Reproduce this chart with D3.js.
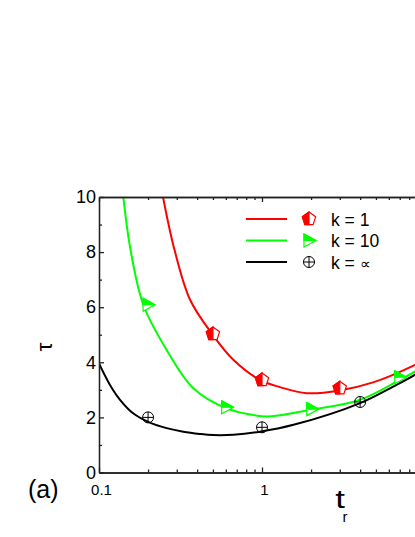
<!DOCTYPE html>
<html><head><meta charset="utf-8">
<script src="https://cdn.jsdelivr.net/npm/d3@7"></script>
<style>body{margin:0;background:#fff} svg{display:block} text{font-family:"Liberation Sans",Arial,sans-serif}</style>
</head><body><svg id="c" width="415" height="537"></svg>
<script>
// ---- data ----
const redCurveX   = [0.247, 0.29, 0.362, 0.49, 0.667, 0.97, 1.29, 1.88, 3.0, 4.8, 8.7, 10];
const redCurveY   = [10, 8.1, 6.27, 5.06, 4.09, 3.36, 3.10, 2.88, 2.98, 3.27, 3.91, 4.1];
const greenCurveX = [0.141, 0.156, 0.187, 0.26, 0.379, 0.607, 1.07, 1.29, 1.97, 4.0, 7.0, 8.7, 10];
const greenCurveY = [10, 8.09, 6.09, 4.45, 3.06, 2.33, 2.03, 2.08, 2.27, 2.64, 3.36, 3.67, 3.95];
const blackCurveX = [0.1, 0.1168, 0.1346, 0.162, 0.205, 0.26, 0.329, 0.416, 0.5, 0.667, 0.97, 1.56, 4.0, 6.38, 8.7, 10];
const blackCurveY = [3.96, 3.18, 2.64, 2.15, 1.81, 1.61, 1.48, 1.40, 1.36, 1.37, 1.48, 1.73, 2.52, 3.12, 3.55, 3.8];

const redPtsX   = [0.5, 1, 3];
const redPtsY   = [5.03, 3.36, 3.06];
const greenPtsX = [0.2, 0.607, 2.02, 7.0];
const greenPtsY = [6.09, 2.37, 2.30, 3.46];
const blackPtsX = [0.2, 1, 4];
const blackPtsY = [2.0, 1.64, 2.56];

const xMajor = [0.1, 1, 10];
const xMinor = [0.2,0.3,0.4,0.5,0.6,0.7,0.8,0.9,2,3,4,5,6,7,8,9];
const xLabels = ["0.1", "1", ""];
const yMajor = [0, 2, 4, 6, 8, 10];
const yMinor = [1, 3, 5, 7, 9];
const legendLabels = ["k = 1", "k = 10", "k = "];

// ---- layout ----
const L = 99, R = 425, T = 197, B = 472.5;
const FONT = "Liberation Sans, Arial, sans-serif";
const svg = d3.select("#c");
const x = d3.scaleLog().domain([0.1, 10]).range([L, R]);
const y = d3.scaleLinear().domain([0, 10]).range([B, T]);

svg.append("defs").append("clipPath").attr("id","clip")
  .append("rect").attr("x",L-8).attr("y",T-8).attr("width",R-L+16).attr("height",B-T+16);
svg.append("defs").append("clipPath").attr("id","clipc")
  .append("rect").attr("x",L).attr("y",T).attr("width",R-L).attr("height",B-T);

const zip = (a,b)=>a.map((v,i)=>[v,b[i]]);
const line = d3.line().x(d=>x(d[0])).y(d=>y(d[1])).curve(d3.curveCatmullRom.alpha(0.5));
const gC = svg.append("g").attr("clip-path","url(#clipc)");
gC.append("path").attr("d", line(zip(blackCurveX, blackCurveY))).attr("fill","none").attr("stroke","#000").attr("stroke-width",2);
gC.append("path").attr("d", line(zip(greenCurveX, greenCurveY))).attr("fill","none").attr("stroke","#00ff00").attr("stroke-width",2);
gC.append("path").attr("d", line(zip(redCurveX, redCurveY))).attr("fill","none").attr("stroke","#ff0000").attr("stroke-width",2);

// axes
function styleAxis(g){ g.attr("font-family",FONT); g.selectAll("path,line").attr("stroke","#222").attr("stroke-width",1.3); g.selectAll("text").attr("fill","#000"); }
const fmt = d => xLabels[xMajor.indexOf(d)];
svg.append("g").attr("transform",`translate(0,${B})`)
  .call(d3.axisBottom(x).tickValues(xMajor).tickFormat(fmt).tickSize(-5).tickSizeOuter(0).tickPadding(12))
  .call(g=>g.selectAll("text").attr("font-size",15).attr("dx",2))
  .call(styleAxis);
svg.append("g").attr("transform",`translate(0,${B})`)
  .call(d3.axisBottom(x).tickValues(xMinor).tickFormat("").tickSize(-3).tickSizeOuter(0)).call(styleAxis);
svg.append("g").attr("transform",`translate(0,${T})`)
  .call(d3.axisTop(x).tickValues(xMajor).tickFormat("").tickSize(-5).tickSizeOuter(0)).call(styleAxis);
svg.append("g").attr("transform",`translate(0,${T})`)
  .call(d3.axisTop(x).tickValues(xMinor).tickFormat("").tickSize(-3).tickSizeOuter(0)).call(styleAxis);
svg.append("g").attr("transform",`translate(${L},0)`)
  .call(d3.axisLeft(y).tickValues(yMajor).tickFormat(d3.format("d")).tickSize(-5).tickSizeOuter(0).tickPadding(3))
  .call(g=>g.selectAll("text").attr("font-size",18))
  .call(styleAxis);
svg.append("g").attr("transform",`translate(${L},0)`)
  .call(d3.axisLeft(y).tickValues(yMinor).tickFormat("").tickSize(-3).tickSizeOuter(0)).call(styleAxis);
svg.append("g").attr("transform",`translate(${R},0)`)
  .call(d3.axisRight(y).tickValues(yMajor).tickFormat("").tickSize(-5).tickSizeOuter(0)).call(styleAxis);

// markers
function pentagon(g, cx, cy, col){
  const r = 7, pts = d3.range(5).map(k=>{const a=(-90+72*k)*Math.PI/180; return [cx+r*Math.cos(a), cy+r*Math.sin(a)];});
  g.append("polygon").attr("points", pts.map(p=>p.join(",")).join(" ")).attr("fill","#fff").attr("stroke",col).attr("stroke-width",1.2);
  const half = [pts[0], pts[4], pts[3], [cx, pts[3][1]]];
  g.append("polygon").attr("points", half.map(p=>p.join(",")).join(" ")).attr("fill",col).attr("stroke",col).attr("stroke-width",1.2);
}
function triangle(g, cx, cy, col){
  const full = [[cx-5,cy-6.5],[cx+7,cy],[cx-5,cy+6.5]];
  g.append("polygon").attr("points", full.map(p=>p.join(",")).join(" ")).attr("fill","#fff").attr("stroke",col).attr("stroke-width",1.2);
  const half = [[cx-5,cy-6.5],[cx+7,cy],[cx-5,cy]];
  g.append("polygon").attr("points", half.map(p=>p.join(",")).join(" ")).attr("fill",col).attr("stroke",col).attr("stroke-width",1.2);
}
function oplus(g, cx, cy, col){
  const r = 5.5;
  g.append("circle").attr("cx",cx).attr("cy",cy).attr("r",r).attr("fill","none").attr("stroke",col).attr("stroke-width",1);
  g.append("line").attr("x1",cx-r).attr("x2",cx+r).attr("y1",cy).attr("y2",cy).attr("stroke",col).attr("stroke-width",1);
  g.append("line").attr("x1",cx).attr("x2",cx).attr("y1",cy-r).attr("y2",cy+r).attr("stroke",col).attr("stroke-width",1);
}
const gm = svg.append("g").attr("clip-path","url(#clip)");
zip(redPtsX, redPtsY).forEach(d=>pentagon(gm, x(d[0]), y(d[1]), "#ff0000"));
zip(greenPtsX, greenPtsY).forEach(d=>triangle(gm, x(d[0]), y(d[1]), "#00ff00"));
zip(blackPtsX, blackPtsY).forEach(d=>oplus(gm, x(d[0]), y(d[1]), "#000"));

// legend
const legCols = ["#ff0000", "#00ff00", "#000"];
const legY = [219, 240.5, 262];
const markerFns = [pentagon, triangle, oplus];
legY.forEach((ly,i)=>{
  svg.append("line").attr("x1",246).attr("x2",287).attr("y1",ly).attr("y2",ly).attr("stroke",legCols[i]).attr("stroke-width",2);
  markerFns[i](svg, 309, ly, legCols[i]);
  const t = svg.append("text").attr("x",331).attr("y",ly+6.5).attr("font-size",17.5).attr("font-family",FONT).attr("fill","#000").text(legendLabels[i]);
  if(i===2) t.append("tspan").attr("font-size",15).text("\u221D");
});

// titles
svg.append("text").attr("transform","translate(52,347) rotate(-90)").attr("text-anchor","middle")
  .attr("font-size",22).attr("font-family",FONT).attr("fill","#000").text("\u03C4");
svg.append("text").attr("transform","translate(340,508) scale(1.4,1)").attr("text-anchor","middle")
  .attr("font-size",25).attr("font-family",FONT).attr("fill","#000").text("t");
svg.append("text").attr("x",345).attr("y",522).attr("text-anchor","middle")
  .attr("font-size",15).attr("font-family",FONT).attr("fill","#000").text("r");
svg.append("text").attr("x",28).attr("y",498).attr("font-size",25).attr("font-family",FONT).attr("fill","#000").text("(a)");
</script></body></html>
